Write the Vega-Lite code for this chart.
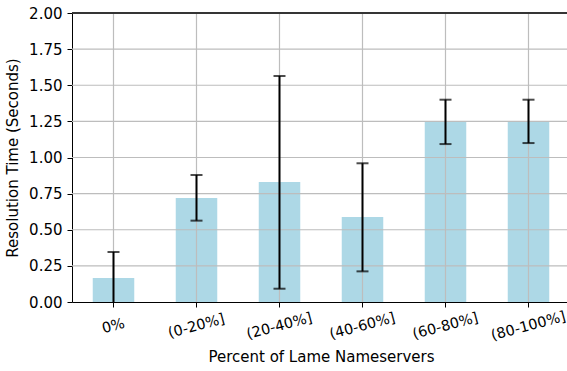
{
  "$schema": "https://vega.github.io/schema/vega-lite/v6.json",
  "autosize": "none",
  "width": 495,
  "height": 289,
  "padding": {"left": 72, "top": 13, "right": 0, "bottom": 69},
  "background": "white",
  "config": {
    "view": {"stroke": null},
    "font": "DejaVu Sans",
    "axis": {
      "labelFont": "DejaVu Sans",
      "titleFont": "DejaVu Sans",
      "labelFontSize": 15,
      "titleFontSize": 15,
      "titleFontWeight": "normal",
      "labelColor": "black",
      "titleColor": "black",
      "domainColor": "black",
      "tickColor": "black",
      "tickSize": 5,
      "labelOverlap": false,
      "grid": false
    },
    "axisX": {"labelFontSize": 14.5, "labelDx": -2}
  },
  "datasets": {
    "bars": [
      {"cat": "0%", "mean": 0.166, "low": 0.0, "high": 0.346, "lowcap": null},
      {"cat": "(0-20%]", "mean": 0.72, "low": 0.563, "high": 0.879, "lowcap": 0.563},
      {"cat": "(20-40%]", "mean": 0.83, "low": 0.092, "high": 1.564, "lowcap": 0.092},
      {"cat": "(40-60%]", "mean": 0.588, "low": 0.212, "high": 0.96, "lowcap": 0.212},
      {"cat": "(60-80%]", "mean": 1.248, "low": 1.093, "high": 1.4, "lowcap": 1.093},
      {"cat": "(80-100%]", "mean": 1.248, "low": 1.1, "high": 1.4, "lowcap": 1.1}
    ],
    "ygrid": [
      {"v": 0.25}, {"v": 0.5}, {"v": 0.75}, {"v": 1.0}, {"v": 1.25}, {"v": 1.5}, {"v": 1.75}
    ]
  },
  "data": {"name": "bars"},
  "layer": [
    {
      "mark": {"type": "bar", "color": "#add8e6"},
      "encoding": {
        "x": {
          "field": "cat", "type": "nominal", "sort": null,
          "scale": {"paddingInner": 0.5, "paddingOuter": 0.25, "range": [0, 498]},
          "axis": {"title": "Percent of Lame Nameservers", "labelAngle": -15, "labelAlign": "center", "labelBaseline": "middle", "labelPadding": 19, "titlePadding": 7}
        },
        "y": {
          "field": "mean", "type": "quantitative",
          "scale": {"domain": [0, 2], "nice": false},
          "axis": {"title": "Resolution Time (Seconds)", "values": [0, 0.25, 0.5, 0.75, 1.0, 1.25, 1.5, 1.75, 2.0], "format": ".2f", "titlePadding": 8, "labelPadding": 5}
        }
      }
    },
    {
      "mark": {"type": "rule", "color": "#bdbdbd", "strokeWidth": 1.2},
      "encoding": {
        "x": {"field": "cat", "type": "nominal", "sort": null,
          "axis": {"title": "Percent of Lame Nameservers", "labelAngle": -15, "labelAlign": "center", "labelBaseline": "middle", "labelPadding": 19, "titlePadding": 7}}
      }
    },
    {
      "data": {"name": "ygrid"},
      "mark": {"type": "rule", "color": "#bdbdbd", "strokeWidth": 1.2},
      "encoding": {
        "y": {"field": "v", "type": "quantitative",
          "axis": {"title": "Resolution Time (Seconds)", "values": [0, 0.25, 0.5, 0.75, 1.0, 1.25, 1.5, 1.75, 2.0], "format": ".2f", "titlePadding": 8, "labelPadding": 5}},
        "x": {"value": 0},
        "x2": {"value": 498}
      }
    },
    {
      "mark": {"type": "rule", "color": "black", "strokeWidth": 2},
      "encoding": {
        "x": {"field": "cat", "type": "nominal", "sort": null,
          "axis": {"title": "Percent of Lame Nameservers", "labelAngle": -15, "labelAlign": "center", "labelBaseline": "middle", "labelPadding": 19, "titlePadding": 7}},
        "y": {"field": "low", "type": "quantitative",
          "axis": {"title": "Resolution Time (Seconds)", "values": [0, 0.25, 0.5, 0.75, 1.0, 1.25, 1.5, 1.75, 2.0], "format": ".2f", "titlePadding": 8, "labelPadding": 5}},
        "y2": {"field": "high"}
      }
    },
    {
      "mark": {"type": "tick", "color": "black", "thickness": 2, "size": 12},
      "encoding": {
        "x": {"field": "cat", "type": "nominal", "sort": null,
          "axis": {"title": "Percent of Lame Nameservers", "labelAngle": -15, "labelAlign": "center", "labelBaseline": "middle", "labelPadding": 19, "titlePadding": 7}},
        "y": {"field": "high", "type": "quantitative",
          "axis": {"title": "Resolution Time (Seconds)", "values": [0, 0.25, 0.5, 0.75, 1.0, 1.25, 1.5, 1.75, 2.0], "format": ".2f", "titlePadding": 8, "labelPadding": 5}}
      }
    },
    {
      "transform": [{"filter": "datum.lowcap != null"}],
      "mark": {"type": "tick", "color": "black", "thickness": 2, "size": 12},
      "encoding": {
        "x": {"field": "cat", "type": "nominal", "sort": null,
          "axis": {"title": "Percent of Lame Nameservers", "labelAngle": -15, "labelAlign": "center", "labelBaseline": "middle", "labelPadding": 19, "titlePadding": 7}},
        "y": {"field": "lowcap", "type": "quantitative",
          "axis": {"title": "Resolution Time (Seconds)", "values": [0, 0.25, 0.5, 0.75, 1.0, 1.25, 1.5, 1.75, 2.0], "format": ".2f", "titlePadding": 8, "labelPadding": 5}}
      }
    },
    {
      "mark": {"type": "rule", "color": "#333333", "strokeWidth": 1.2},
      "encoding": {
        "y": {"datum": 2, "type": "quantitative",
          "axis": {"title": "Resolution Time (Seconds)", "values": [0, 0.25, 0.5, 0.75, 1.0, 1.25, 1.5, 1.75, 2.0], "format": ".2f", "titlePadding": 8, "labelPadding": 5}},
        "x": {"value": 0},
        "x2": {"value": 498}
      }
    }
  ]
}
